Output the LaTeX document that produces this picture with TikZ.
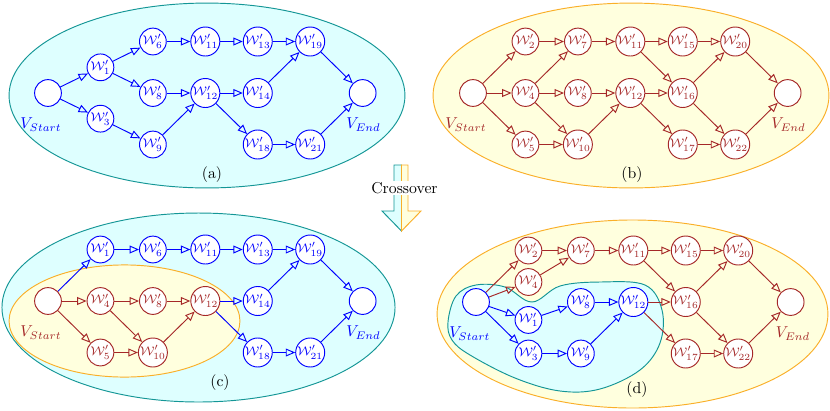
\documentclass[tikz,border=0pt]{standalone}
\usepackage{amsmath,amssymb}
\usetikzlibrary{arrows.meta,positioning}
\definecolor{pathred}{RGB}{165,40,40}
\definecolor{regionteal}{RGB}{20,150,150}
\definecolor{regionorange}{RGB}{250,175,40}
\definecolor{tealfill}{RGB}{222,255,255}
\definecolor{orangefill}{RGB}{255,255,222}

\begin{document}
\begin{tikzpicture}[
  x=0.635pt, y=-0.635pt,
  node distance=32.7pt and 33.3pt, on grid,
  bluenode/.style={circle, draw=blue, fill=white, text=blue, minimum size=17pt,
                   inner sep=0pt, font=\footnotesize, semithick},
  rednode/.style={circle, draw=pathred, fill=white, text=pathred, minimum size=17pt,
                  inner sep=0pt, font=\footnotesize, semithick},
  bluearrow/.style={-{Triangle[open, length=6pt, width=5pt]}, blue, semithick},
  redarrow/.style={-{Triangle[open, length=6pt, width=5pt]}, pathred, semithick},
  tealregion/.style={draw=regionteal, fill=tealfill, semithick},
  orangeregion/.style={draw=regionorange, fill=orangefill, semithick}
]
\useasboundingbox (0,0) rectangle (830,410);

% Regions
\draw[tealregion] (207,95.5) ellipse [x radius=125.7pt, y radius=58.7pt];
\draw[orangeregion] (631,95.5) ellipse [x radius=125.7pt, y radius=58.7pt];
\draw[tealregion] (198.5,307.5) ellipse [x radius=124.8pt, y radius=60pt];
\draw[orangeregion] (124.5,321) ellipse [x radius=73.3pt, y radius=35.6pt];
\draw[orangeregion] (632.5,314) ellipse [x radius=124.1pt, y radius=59.7pt];
\draw[tealregion] plot[smooth cycle, tension=0.6] coordinates {
  (448,322) (456,296) (476,285) (505,287) (532,302) (560,286) (600,282) (645,285)
  (662,310) (660,343) (640,370) (600,389) (560,391) (515,378) (470,355) (452,340)};

% Crossover arrow
\draw[regionteal, fill=tealfill, semithick] (401.5,165) -- (394,165) -- (394,211) -- (382,211) -- (401.5,231) -- cycle;
\draw[regionorange, fill=orangefill, semithick] (401.5,165) -- (408,165) -- (408,211) -- (421,211) -- (401.5,231) -- cycle;
\node[fill=white, inner sep=1pt] (cross) at (404.5,188) {Crossover};

% Panel (a)
\node[bluenode] (aS) at (48,93) {};
\node[bluenode, above right=16.3pt and 33.3pt of aS] (a1) {$\mathcal{W}'_{1}$};
\node[bluenode, below right=16.3pt and 33.3pt of aS] (a3) {$\mathcal{W}'_{3}$};
\node[bluenode, right=66.6pt of aS] (a8) {$\mathcal{W}'_{8}$};
\node[bluenode, above=of a8] (a6) {$\mathcal{W}'_{6}$};
\node[bluenode, below=of a8] (a9) {$\mathcal{W}'_{9}$};
\node[bluenode, right=of a6] (a11) {$\mathcal{W}'_{11}$};
\node[bluenode, right=of a8] (a12) {$\mathcal{W}'_{12}$};
\node[bluenode, right=of a11] (a13) {$\mathcal{W}'_{13}$};
\node[bluenode, right=of a12] (a14) {$\mathcal{W}'_{14}$};
\node[bluenode, below right=of a12] (a18) {$\mathcal{W}'_{18}$};
\node[bluenode, right=of a13] (a19) {$\mathcal{W}'_{19}$};
\node[bluenode, right=of a18] (a21) {$\mathcal{W}'_{21}$};
\node[bluenode, right=66.6pt of a14] (aE) {};
\node[below=20pt of aS, xshift=-4.5pt, text=blue] (aSlab) {$V_{Start}$};
\node[below=20pt of aE, xshift=0.5pt, text=blue] (aElab) {$V_{End}$};
\node (alab) at (212,175) {(a)};

\draw[bluearrow] (aS) edge (a1) edge (a3);
\draw[bluearrow] (a1) edge (a6) edge (a8);
\draw[bluearrow] (a3) edge (a9);
\draw[bluearrow] (a6) edge (a11);
\draw[bluearrow] (a8) edge (a12);
\draw[bluearrow] (a9) edge (a12);
\draw[bluearrow] (a11) edge (a13);
\draw[bluearrow] (a12) edge (a14) edge (a18);
\draw[bluearrow] (a13) edge (a19);
\draw[bluearrow] (a14) edge (a19);
\draw[bluearrow] (a18) edge (a21);
\draw[bluearrow] (a19) edge (aE);
\draw[bluearrow] (a21) edge (aE);

% Panel (b)
\node[rednode] (bS) at (473,93) {};
\node[rednode, right=of bS] (b4) {$\mathcal{W}'_{4}$};
\node[rednode, above=of b4] (b2) {$\mathcal{W}'_{2}$};
\node[rednode, below=of b4] (b5) {$\mathcal{W}'_{5}$};
\node[rednode, right=of b4] (b8) {$\mathcal{W}'_{8}$};
\node[rednode, above=of b8] (b7) {$\mathcal{W}'_{7}$};
\node[rednode, below=of b8] (b10) {$\mathcal{W}'_{10}$};
\node[rednode, right=of b8] (b12) {$\mathcal{W}'_{12}$};
\node[rednode, above=of b12] (b11) {$\mathcal{W}'_{11}$};
\node[rednode, right=of b12] (b16) {$\mathcal{W}'_{16}$};
\node[rednode, above=of b16] (b15) {$\mathcal{W}'_{15}$};
\node[rednode, below=of b16] (b17) {$\mathcal{W}'_{17}$};
\node[rednode, above right=of b16] (b20) {$\mathcal{W}'_{20}$};
\node[rednode, below right=of b16] (b22) {$\mathcal{W}'_{22}$};
\node[rednode, right=66.6pt of b16] (bE) {};
\node[below=20pt of bS, xshift=-4.5pt, text=pathred] (bSlab) {$V_{Start}$};
\node[below=20pt of bE, xshift=0.5pt, text=pathred] (bElab) {$V_{End}$};
\node (blab) at (632,175) {(b)};

\draw[redarrow] (bS) edge (b2) edge (b4) edge (b5);
\draw[redarrow] (b2) edge (b7);
\draw[redarrow] (b4) edge (b7) edge (b8) edge (b10);
\draw[redarrow] (b5) edge (b10);
\draw[redarrow] (b7) edge (b11);
\draw[redarrow] (b8) edge (b12);
\draw[redarrow] (b10) edge (b12);
\draw[redarrow] (b11) edge (b15) edge (b16);
\draw[redarrow] (b12) edge (b16) edge (b17);
\draw[redarrow] (b15) edge (b20);
\draw[redarrow] (b16) edge (b20) edge (b22);
\draw[redarrow] (b17) edge (b22);
\draw[redarrow] (b20) edge (bE);
\draw[redarrow] (b22) edge (bE);

% Panel (c)
\node[rednode] (cS) at (48,301) {};
\node[rednode, right=of cS] (c4) {$\mathcal{W}'_{4}$};
\node[bluenode, above=of c4] (c1) {$\mathcal{W}'_{1}$};
\node[rednode, below=of c4] (c5) {$\mathcal{W}'_{5}$};
\node[rednode, right=of c4] (c8) {$\mathcal{W}'_{8}$};
\node[bluenode, above=of c8] (c6) {$\mathcal{W}'_{6}$};
\node[rednode, below=of c8] (c10) {$\mathcal{W}'_{10}$};
\node[rednode, right=of c8] (c12) {$\mathcal{W}'_{12}$};
\node[bluenode, above=of c12] (c11) {$\mathcal{W}'_{11}$};
\node[bluenode, right=of c12] (c14) {$\mathcal{W}'_{14}$};
\node[bluenode, above=of c14] (c13) {$\mathcal{W}'_{13}$};
\node[bluenode, below=of c14] (c18) {$\mathcal{W}'_{18}$};
\node[bluenode, above right=of c14] (c19) {$\mathcal{W}'_{19}$};
\node[bluenode, below right=of c14] (c21) {$\mathcal{W}'_{21}$};
\node[bluenode, right=66.6pt of c14] (cE) {};
\node[below=20pt of cS, xshift=-4.5pt, text=pathred] (cSlab) {$V_{Start}$};
\node[below=20pt of cE, xshift=0.5pt, text=blue] (cElab) {$V_{End}$};
\node (clab) at (220,383) {(c)};

\draw[bluearrow] (cS) edge (c1);
\draw[redarrow] (cS) edge (c4) edge (c5);
\draw[bluearrow] (c1) edge (c6);
\draw[bluearrow] (c6) edge (c11);
\draw[bluearrow] (c11) edge (c13);
\draw[bluearrow] (c13) edge (c19);
\draw[redarrow] (c4) edge (c8) edge (c10);
\draw[redarrow] (c5) edge (c10);
\draw[redarrow] (c8) edge (c12);
\draw[redarrow] (c10) edge (c12);
\draw[bluearrow] (c12) edge (c14) edge (c18);
\draw[bluearrow] (c14) edge (c19);
\draw[bluearrow] (c18) edge (c21);
\draw[bluearrow] (c19) edge (cE);
\draw[bluearrow] (c21) edge (cE);

% Panel (d)
\node[bluenode] (dS) at (476,302) {};
\node[rednode, above right=of dS] (d2) {$\mathcal{W}'_{2}$};
\node[rednode, above right=12.7pt and 33.3pt of dS] (d4) {$\mathcal{W}'_{4}$};
\node[bluenode, below right=11.4pt and 33.3pt of dS] (d1) {$\mathcal{W}'_{1}$};
\node[bluenode, below right=of dS] (d3) {$\mathcal{W}'_{3}$};
\node[bluenode, right=66.6pt of dS] (d8) {$\mathcal{W}'_{8}$};
\node[rednode, above=of d8] (d7) {$\mathcal{W}'_{7}$};
\node[bluenode, below=of d8] (d9) {$\mathcal{W}'_{9}$};
\node[bluenode, right=of d8] (d12) {$\mathcal{W}'_{12}$};
\node[rednode, above=of d12] (d11) {$\mathcal{W}'_{11}$};
\node[rednode, right=of d12] (d16) {$\mathcal{W}'_{16}$};
\node[rednode, above=of d16] (d15) {$\mathcal{W}'_{15}$};
\node[rednode, below=of d16] (d17) {$\mathcal{W}'_{17}$};
\node[rednode, above right=of d16] (d20) {$\mathcal{W}'_{20}$};
\node[rednode, below right=of d16] (d22) {$\mathcal{W}'_{22}$};
\node[rednode, right=66.6pt of d16] (dE) {};
\node[below=20pt of dS, xshift=-4pt, text=blue] (dSlab) {$V_{Start}$};
\node[below=20pt of dE, xshift=1.5pt, text=pathred] (dElab) {$V_{End}$};
\node (dlab) at (637,390) {(d)};

\draw[redarrow] (dS) edge (d2) edge (d4);
\draw[bluearrow] (dS) edge (d1) edge (d3);
\draw[redarrow] (d2) edge (d7);
\draw[redarrow] (d4) edge (d7);
\draw[bluearrow] (d1) edge (d8);
\draw[bluearrow] (d3) edge (d9);
\draw[bluearrow] (d8) edge (d12);
\draw[bluearrow] (d9) edge (d12);
\draw[redarrow] (d7) edge (d11);
\draw[redarrow] (d11) edge (d15) edge (d16);
\draw[redarrow] (d12) edge (d16) edge (d17);
\draw[redarrow] (d15) edge (d20);
\draw[redarrow] (d16) edge (d20) edge (d22);
\draw[redarrow] (d17) edge (d22);
\draw[redarrow] (d20) edge (dE);
\draw[redarrow] (d22) edge (dE);

\end{tikzpicture}
\end{document}
